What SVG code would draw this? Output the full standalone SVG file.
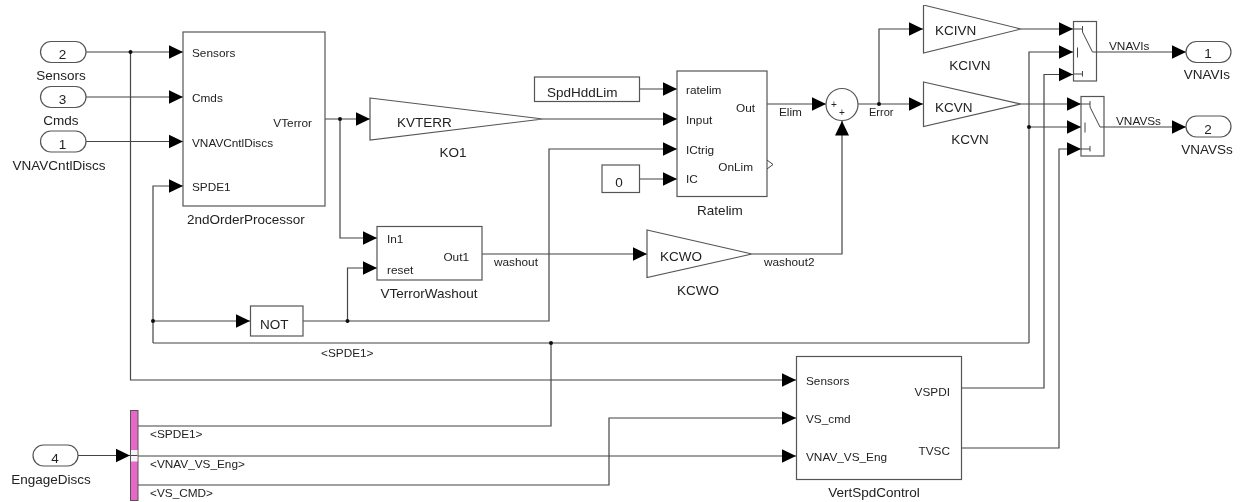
<svg xmlns="http://www.w3.org/2000/svg" width="1243" height="502" viewBox="0 0 1243 502">
<defs>
<marker id="a" markerUnits="userSpaceOnUse" markerWidth="15" markerHeight="15" refX="14.500" refY="7.500" orient="auto"><path d="M0 .5L14.500 7.500L0 14.500Z" fill="#000"/></marker>
<g id="switch"><rect x="0" y="0" width="23" height="59.500" class="b"/><path d="M0 7.500H9V10.500M9 4.500V7.500M0 52.500H9M9 49.500V55M4 26V36M19 30.500L9 10.500M19 30.500H23" class="s"/></g>
<filter id="soft" x="0" y="0" width="100%" height="100%"><feGaussianBlur stdDeviation="0.35"/></filter>
</defs>
<style>
text{font-family:"Liberation Sans",Arial,sans-serif;font-size:11.800px;fill:#222}
.l{font-size:13.500px}
.m{text-anchor:middle}
.r{text-anchor:end}
.b{fill:#fff;stroke:#555;stroke-width:1.200}
.s{fill:none;stroke:#444;stroke-width:1}
#connectors path{fill:none;stroke:#444;stroke-width:1.200}
#connectors path.h{marker-end:url(#a)}
#connectors circle{fill:#111;stroke:none}
</style>
<rect width="1243" height="502" fill="#fff"/>
<g filter="url(#soft)">
<g id="connectors">
<path class="h" d="M86 52H183"/>
<path class="h" d="M86 97H183"/>
<path class="h" d="M86 141.500H183"/>
<path class="h" d="M130.500 52V380H796"/>
<path class="h" d="M153 343V186H183"/>
<path class="h" d="M153 321H250"/>
<path d="M153 343H1029"/>
<path class="h" d="M303 321H549V149H677"/>
<path class="h" d="M347.500 321V268H377"/>
<path class="h" d="M325 119H370"/>
<path class="h" d="M340 119V238H377"/>
<path class="h" d="M543 119H677"/>
<path class="h" d="M640 89H677"/>
<path class="h" d="M640 179H677"/>
<path class="h" d="M767 104H826"/>
<path class="h" d="M482 254H647"/>
<path class="h" d="M752 254H842V121"/>
<path class="h" d="M858 104H923"/>
<path class="h" d="M879 104V29H923"/>
<path class="h" d="M1021 29H1073"/>
<path class="h" d="M1021 104H1081"/>
<path class="h" d="M1029 343V52H1073"/>
<path class="h" d="M1029 127H1081"/>
<path class="h" d="M962 388H1044V74.500H1073"/>
<path class="h" d="M962 448H1059V149H1081"/>
<path class="h" d="M1096 52H1186"/>
<path class="h" d="M1104 127H1186"/>
<path class="h" d="M78 455.500H130"/>
<path d="M138 426H551V343"/>
<path class="h" d="M138 456H796"/>
<path class="h" d="M138 485H609V418H796"/>
<circle cx="130.500" cy="52" r="2"/><circle cx="153" cy="321" r="2"/><circle cx="347.500" cy="321" r="2"/><circle cx="340" cy="119" r="2"/><circle cx="551" cy="343" r="2"/><circle cx="879" cy="104" r="2"/><circle cx="1029" cy="127" r="2"/>
<text x="494" y="266">washout</text>
<text x="764" y="266">washout2</text>
<text x="779" y="116">Elim</text>
<text x="869" y="116" style="font-size:11px">Error</text>
<text x="1109" y="50">VNAVIs</text>
<text x="1116" y="125">VNAVSs</text>
<text x="321" y="357">&lt;SPDE1&gt;</text>
<text x="150" y="437.500">&lt;SPDE1&gt;</text>
<text x="150" y="467.500">&lt;VNAV_VS_Eng&gt;</text>
<text x="150" y="497">&lt;VS_CMD&gt;</text>
</g>
<g id="in-sensors"><rect x="40.500" y="41.500" width="45.500" height="21" rx="10.500" class="b"/><text x="62.500" y="59" class="l m">2</text><text x="61" y="80" class="l m">Sensors</text></g>
<g id="in-cmds"><rect x="40.500" y="86.500" width="45.500" height="21" rx="10.500" class="b"/><text x="62.500" y="104" class="l m">3</text><text x="61" y="125" class="l m">Cmds</text></g>
<g id="in-discs"><rect x="40.500" y="131" width="45.500" height="21" rx="10.500" class="b"/><text x="62.500" y="149" class="l m">1</text><text x="59" y="170" class="l m">VNAVCntlDiscs</text></g>
<g id="in-engage"><rect x="33" y="445" width="45" height="21" rx="10.500" class="b"/><text x="55" y="463" class="l m">4</text><text x="51" y="484" class="l m">EngageDiscs</text></g>
<g id="processor"><rect x="183" y="32" width="142" height="174" class="b"/><text x="192" y="57">Sensors</text><text x="192" y="102">Cmds</text><text x="192" y="147">VNAVCntlDiscs</text><text x="192" y="191">SPDE1</text><text x="312" y="126.500" class="r">VTerror</text><text x="187" y="224" class="l">2ndOrderProcessor</text></g>
<g id="ko1"><path d="M370 98L543 119L370 140Z" class="b"/><text x="397" y="127" class="l">KVTERR</text><text x="453" y="157" class="l m">KO1</text></g>
<g id="washout"><rect x="377" y="226.500" width="105" height="53.500" class="b"/><text x="387" y="243">In1</text><text x="387" y="274">reset</text><text x="469" y="261" class="r">Out1</text><text x="429" y="298" class="l m">VTerrorWashout</text></g>
<g id="not"><rect x="250.500" y="306" width="52.500" height="30" class="b"/><text x="260" y="329" class="l">NOT</text></g>
<g id="spdhddlim"><rect x="534.500" y="77" width="105" height="24.500" class="b"/><text x="547" y="97" class="l">SpdHddLim</text></g>
<g id="zero"><rect x="602" y="165" width="37.500" height="27.500" class="b"/><text x="619" y="187" class="l m">0</text></g>
<g id="ratelim"><rect x="677" y="71" width="90" height="125.500" class="b"/><path d="M767 160L773 164.500L767 169" class="s"/><text x="686" y="94">ratelim</text><text x="686" y="124">Input</text><text x="686" y="154">ICtrig</text><text x="686" y="183">IC</text><text x="755" y="112" class="r">Out</text><text x="753" y="171" class="r">OnLim</text><text x="720" y="215" class="l m">Ratelim</text></g>
<g id="kcwo"><path d="M647 230L752 254L647 277.500Z" class="b"/><text x="660" y="261" class="l">KCWO</text><text x="698" y="295" class="l m">KCWO</text></g>
<g id="sum"><circle cx="842" cy="104.500" r="16" class="b"/><text x="834" y="108" class="m" style="font-size:10px">+</text><text x="842" y="115.500" class="m" style="font-size:10px">+</text></g>
<g id="kcivn"><path d="M923.500 5L1021 29L923.500 53Z" class="b"/><text x="935" y="35" class="l">KCIVN</text><text x="970" y="70" class="l m">KCIVN</text></g>
<g id="kcvn"><path d="M923.500 82L1021 104L923.500 126.500Z" class="b"/><text x="935" y="112" class="l">KCVN</text><text x="970" y="144" class="l m">KCVN</text></g>
<g id="switch1"><use href="#switch" x="1073.500" y="21.500"/></g>
<g id="switch2"><use href="#switch" x="1081" y="96.500"/></g>
<g id="out-vnavis"><rect x="1186" y="41.500" width="45" height="21" rx="10.500" class="b"/><text x="1208" y="58" class="l m">1</text><text x="1207" y="79" class="l m">VNAVIs</text></g>
<g id="out-vnavss"><rect x="1186" y="116" width="45" height="21" rx="10.500" class="b"/><text x="1208" y="134" class="l m">2</text><text x="1207" y="154" class="l m">VNAVSs</text></g>
<g id="vertspd"><rect x="796.500" y="356.500" width="165" height="123" class="b"/><text x="806" y="385">Sensors</text><text x="806" y="423">VS_cmd</text><text x="806" y="461">VNAV_VS_Eng</text><text x="950" y="396" class="r">VSPDI</text><text x="950" y="455" class="r">TVSC</text><text x="874" y="497" class="l m">VertSpdControl</text></g>
<g id="demux"><rect x="130.500" y="410.500" width="7.500" height="90" fill="#e868c8" stroke="#555" stroke-width="1"/><rect x="131" y="450" width="6.500" height="11.500" fill="#f4f4f4"/><path d="M131 455.500H137.500" class="s"/></g>
</g>
</svg>
